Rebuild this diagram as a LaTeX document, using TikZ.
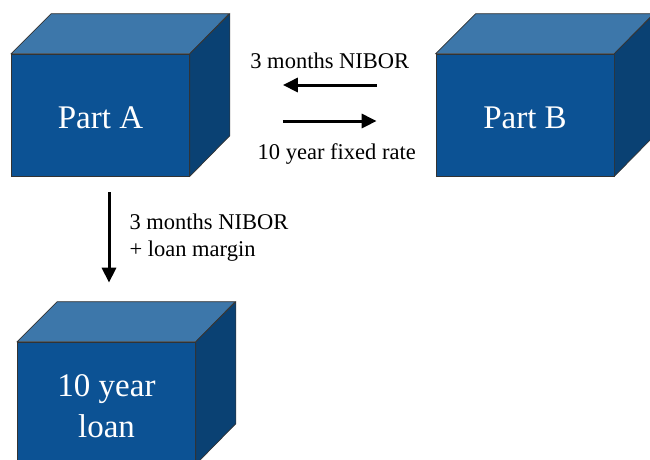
\documentclass[tikz,border=0pt]{standalone}
\usepackage{fontspec}
\setmainfont{Liberation Serif}
\usepackage{xcolor}
\usetikzlibrary{positioning, arrows.meta}

\definecolor{frontblue}{HTML}{0C5294}
\definecolor{topblue}{HTML}{3D77AA}
\definecolor{sideblue}{HTML}{0A4173}

\begin{document}
\begin{tikzpicture}[
    x=1pt, y=-1pt,
    box/.style={draw=black!80, line width=0.7pt, rectangle, fill=frontblue, text=white, minimum width=178pt, minimum height=122pt, align=center, font=\fontsize{33}{41}\selectfont, inner sep=0pt},
    topface/.style={draw=black!80, line width=0.7pt, fill=topblue},
    sideface/.style={draw=black!80, line width=0.7pt, fill=sideblue},
    arrow/.style={-{Triangle[length=15pt, width=14pt]}, line width=3pt},
    lbl/.style={font=\fontsize{22.5}{27}\selectfont, align=left, inner sep=0pt}
]
    \useasboundingbox (0,0) rectangle (650,459);

    \node[box, text height=28pt] (parta) at (100.5,115) {Part A};
    \draw[topface] (parta.north west) -- ++(40,-40) -- ++(178,0) -- (parta.north east) -- cycle;
    \draw[sideface] (parta.north east) -- ++(40,-40) -- ++(0,122) -- (parta.south east) -- cycle;

    \node[box, text height=28pt] (partb) at (525,115) {Part B};
    \draw[topface] (partb.north west) -- ++(40,-40) -- ++(178,0) -- (partb.north east) -- cycle;
    \draw[sideface] (partb.north east) -- ++(40,-40) -- ++(0,122) -- (partb.south east) -- cycle;

    \node[box] (loan) at (106.5,403) {\rule{0pt}{29pt}10 year\\loan};
    \draw[topface] (loan.north west) -- ++(40,-40) -- ++(178,0) -- (loan.north east) -- cycle;
    \draw[sideface] (loan.north east) -- ++(40,-40) -- ++(0,122) -- (loan.south east) -- cycle;

    % swap legs
    \draw[arrow, shorten <=59pt, shorten >=93pt] ([yshift=30pt]partb.west) -- ([yshift=30pt]parta.east)
        node[lbl, midway, above=15pt, xshift=17pt] {3 months NIBOR};
    \draw[arrow, shorten <=93pt, shorten >=59pt] ([yshift=-6pt]parta.east) -- ([yshift=-6pt]partb.west)
        node[lbl, midway, below=21pt, xshift=24pt] {10 year fixed rate};

    % loan payments
    \draw[arrow, shorten <=16pt, shorten >=59pt] ([xshift=8.5pt]parta.south) -- ([xshift=2.5pt]loan.north)
        node[lbl, midway, right=19pt, yshift=21pt] {3 months NIBOR\\+ loan margin};
\end{tikzpicture}
\end{document}
